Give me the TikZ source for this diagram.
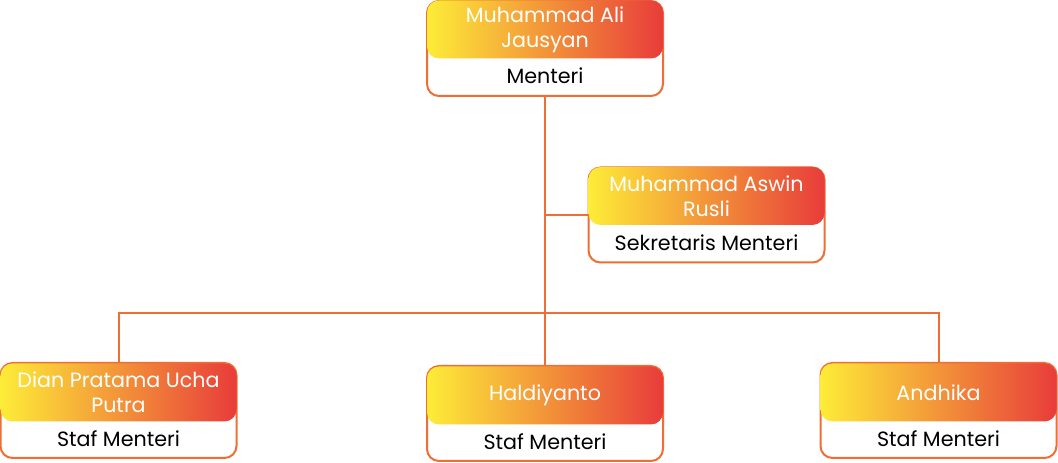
\documentclass[tikz,border=0pt]{standalone}
\usepackage{fontspec}
\setmainfont{Poppins}
\definecolor{linkorange}{RGB}{239,110,52}
\definecolor{gradyellow}{RGB}{253,236,56}
\definecolor{gradorange}{RGB}{243,152,66}
\definecolor{gradred}{RGB}{232,60,58}
\begin{document}
\begin{tikzpicture}[x=0.75pt,y=-0.75pt,
  card/.style={draw=linkorange,line width=1.5pt,rounded corners=9pt,fill=white,
    minimum width=177pt,minimum height=71.25pt,inner sep=0pt},
  head/.style={rounded corners=9pt,left color=gradyellow,middle color=gradorange,
    right color=gradred,minimum width=177pt,minimum height=43.5pt,inner sep=0pt,
    text=white,align=center,font=\fontsize{15.5}{18.75}\selectfont},
  role/.style={text=black,font=\fontsize{15.5}{18}\selectfont},
  link/.style={draw=linkorange,line width=1.5pt}]
  \useasboundingbox (0,0) rectangle (1058,463);
  % menteri
  \node[card] (menteri) at (545,48.5) {};
  \node[head] (menteri-head) at (545,29.5) {Muhammad Ali\\Jausyan};
  \node[role] (menteri-role) at (545,76) {Menteri};
  % sekretaris menteri
  \node[card] (sekretaris) at (706.5,215) {};
  \node[head] (sekretaris-head) at (706.5,196) {Muhammad Aswin\\Rusli};
  \node[role] (sekretaris-role) at (706.5,243) {Sekretaris Menteri};
  % staf menteri 1
  \node[card] (staf1) at (118.5,410.5) {};
  \node[head] (staf1-head) at (118.5,392.5) {Dian Pratama Ucha\\Putra};
  \node[role] (staf1-role) at (118.5,439) {Staf Menteri};
  % staf menteri 2
  \node[card] (staf2) at (545,413.5) {};
  \node[head] (staf2-head) at (545,395.5) {Haldiyanto};
  \node[role] (staf2-role) at (545,442) {Staf Menteri};
  % staf menteri 3
  \node[card] (staf3) at (938.5,410.5) {};
  \node[head] (staf3-head) at (938.5,392.5) {Andhika};
  \node[role] (staf3-role) at (938.5,439) {Staf Menteri};
  % connectors
  \coordinate (bus) at (545,313);
  \draw[link] (menteri.south) -- (staf2.north);
  \draw[link] (menteri.south |- sekretaris.west) -- (sekretaris.west);
  \draw[link] (staf1.north) |- (bus) -| (staf3.north);
\end{tikzpicture}
\end{document}
